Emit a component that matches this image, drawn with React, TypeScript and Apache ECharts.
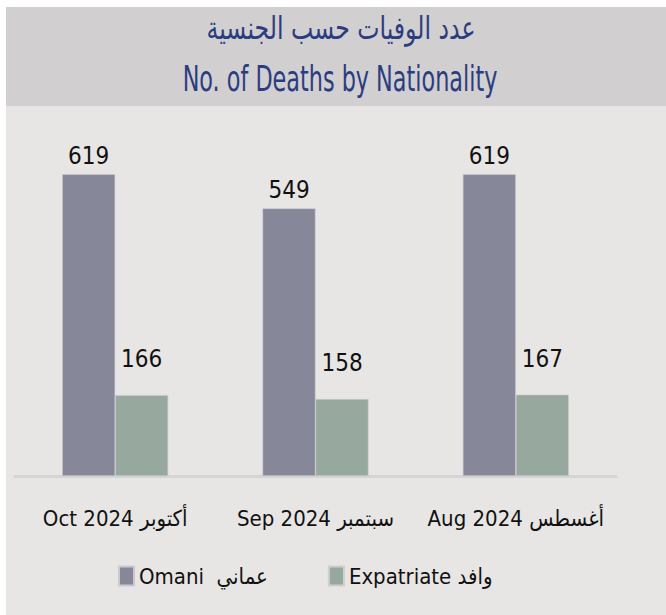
import React, { useEffect, useRef } from "react";
import * as echarts from "echarts";

const categories = ["Aug 2024 أغسطس", "Sep 2024 سبتمبر", "Oct 2024 أكتوبر"];
const omaniValues = [619, 549, 619];
const expatValues = [167, 158, 166];
const seriesNames = ["Omani  عماني", "Expatriate وافد"];
const titleAr = "عدد الوفيات حسب الجنسية";
const titleEn = "No. of Deaths by Nationality";

const FONT = "'DejaVu Sans Condensed', 'DejaVu Sans', sans-serif";

export default function App() {
  const ref = useRef<HTMLDivElement>(null);
  useEffect(() => {
    if (!ref.current) return;
    const chart = echarts.init(ref.current, undefined, { renderer: "svg" });
    chart.setOption({
      animation: false,
      backgroundColor: "#ffffff",
      textStyle: { fontFamily: FONT },
      graphic: [
        { type: "rect", z: -10, shape: { x: 6, y: 7, width: 660, height: 608 }, style: { fill: "#e7e6e4" } },
        { type: "rect", z: -9, shape: { x: 6, y: 7, width: 660, height: 99 }, style: { fill: "#d1cfd0" } },
        {
          type: "text", x: 341, y: 12, scaleX: 0.82,
          style: { text: titleAr, fill: "#2b3d80", font: `32px ${FONT}`, textAlign: "center" },
        },
        {
          type: "text", x: 340, y: 60, scaleX: 0.69,
          style: { text: titleEn, fill: "#2b3d80", font: `36px ${FONT}`, textAlign: "center" },
        },
      ],
      legend: {
        left: 113,
        top: 560,
        itemWidth: 15,
        itemHeight: 19,
        itemGap: 60,
        icon: "rect",
        data: seriesNames,
        textStyle: { fontFamily: FONT, fontSize: 22, color: "#111111" },
      },
      grid: { left: 15, right: 50, top: 86, bottom: 139 },
      xAxis: {
        type: "category",
        data: categories,
        inverse: true,
        axisTick: { show: false },
        axisLine: { lineStyle: { color: "#d5d4d4", width: 3 } },
        axisLabel: { interval: 0, margin: 31, fontSize: 22, color: "#111111", fontFamily: FONT },
      },
      yAxis: {
        type: "value",
        min: 0,
        max: 800,
        show: false,
        splitLine: { show: false },
      },
      series: [
        {
          name: seriesNames[0],
          type: "bar",
          data: omaniValues,
          barWidth: 53,
          barGap: "0%",
          itemStyle: { color: "#868799", borderColor: "#c9c9d2", borderWidth: 0.6 },
          label: { show: true, position: "top", distance: 6, fontSize: 24, color: "#111111", fontFamily: FONT },
        },
        {
          name: seriesNames[1],
          type: "bar",
          data: expatValues,
          barWidth: 53,
          barGap: "0%",
          itemStyle: { color: "#97a89e", borderColor: "#c9d2cc", borderWidth: 0.6 },
          label: { show: true, position: "top", distance: 24, fontSize: 24, color: "#111111", fontFamily: FONT },
        },
      ],
    });
    return () => chart.dispose();
  }, []);
  return (
    <div
      ref={ref}
      style={{ position: "fixed", left: 0, top: 0, width: 666, height: 615 }}
    />
  );
}
